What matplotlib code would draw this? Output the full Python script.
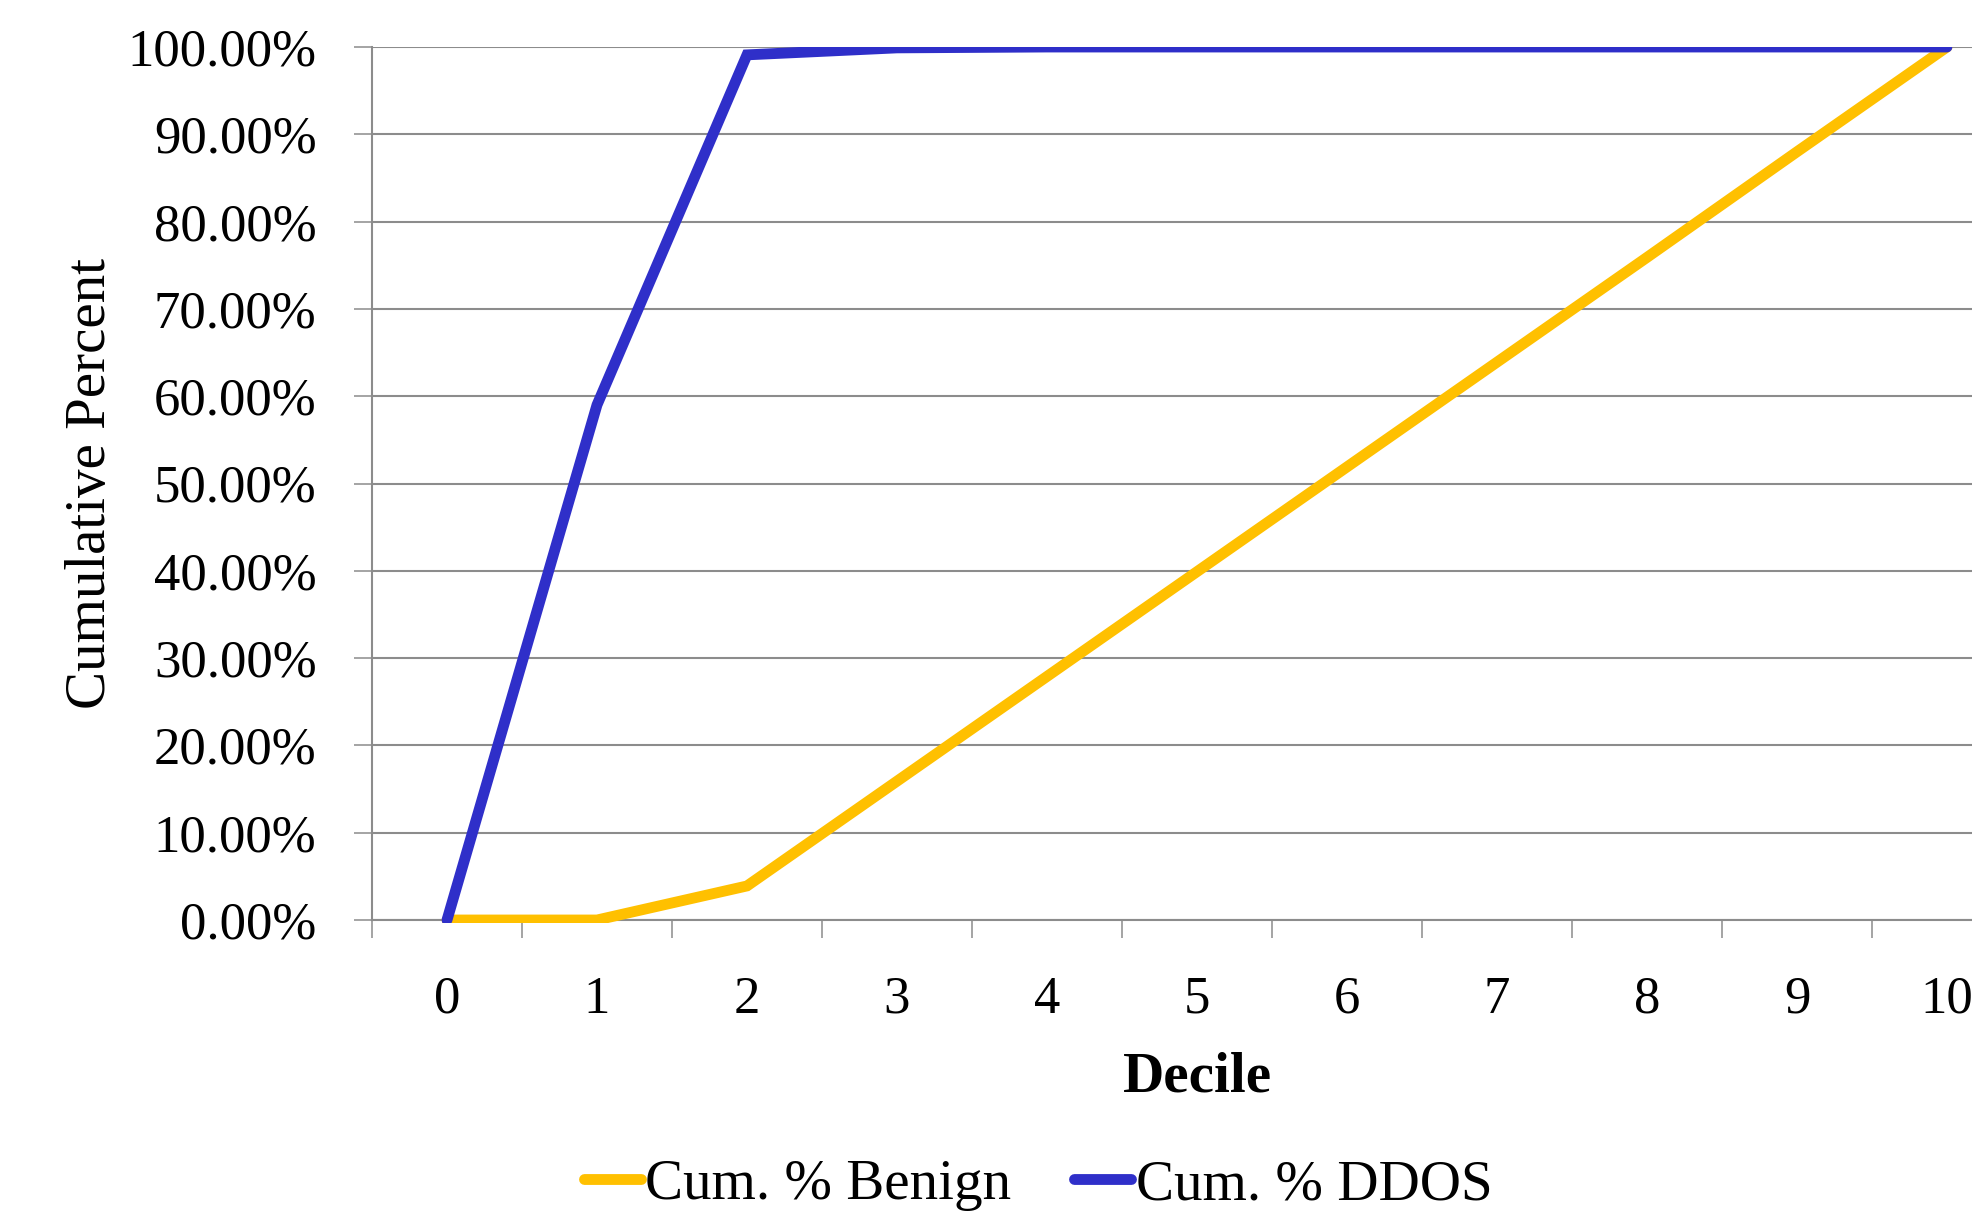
"""Cumulative percent of benign vs DDOS traffic by decile."""

import matplotlib.pyplot as plt
from matplotlib.ticker import FixedLocator, FuncFormatter
from matplotlib.transforms import Bbox, TransformedBbox

deciles = list(range(11))
decile_labels = [str(d) for d in deciles]
cum_benign = [0.0, 0.0, 3.9, 15.9, 27.9, 39.9, 51.9, 63.9, 75.9, 88.0, 100.0]
cum_ddos = [0.0, 59.0, 99.1, 99.9, 100.0, 100.0, 100.0, 100.0, 100.0, 100.0, 100.0]
y_ticks = [0, 10, 20, 30, 40, 50, 60, 70, 80, 90, 100]

BENIGN_COLOR = "#FFC000"
DDOS_COLOR = "#2F2FC9"
GRID_COLOR = "#8C8C8C"

plt.rcParams["font.family"] = ["Liberation Serif", "DejaVu Serif"]

W, H = 1972, 1226
fig = plt.figure(figsize=(W / 100, H / 100), dpi=100)

# plot area runs off the right edge, like the exported chart
left, right, top, bottom = 372, 2022, 47, 920
ax = fig.add_axes([left / W, 1 - bottom / H, (right - left) / W, (bottom - top) / H])

# series are clipped at the top of the plot area, with a little room below zero
clip = TransformedBbox(Bbox([[-0.5, -0.4], [10.5, 100.0]]), ax.transData)
for values, color, name, z in [(cum_benign, BENIGN_COLOR, "Cum. % Benign", 3),
                               (cum_ddos, DDOS_COLOR, "Cum. % DDOS", 4)]:
    line, = ax.plot(deciles, values, color=color, lw=7.8, solid_capstyle="round",
                    solid_joinstyle="miter", label=name, zorder=z)
    line.set_clip_box(clip)

ax.set_xlim(-0.5, 10.5)
ax.set_ylim(0, 100)

# y axis: percent gridlines
ax.set_yticks(y_ticks)
ax.yaxis.set_major_formatter(FuncFormatter(lambda v, _: f"{v:.2f}%"))
ax.grid(axis="y", color=GRID_COLOR, lw=1.5)
ax.set_axisbelow(True)

# x axis: tick marks between categories, labels on the categories
ax.xaxis.set_major_locator(FixedLocator([d - 0.5 for d in deciles] + [10.5]))
ax.xaxis.set_major_formatter(FuncFormatter(lambda v, _: ""))
ax.xaxis.set_minor_locator(FixedLocator(deciles))
ax.set_xticklabels(decile_labels, minor=True)

ax.tick_params(axis="both", which="major", direction="out", length=13,
               width=1.1, color=GRID_COLOR, labelsize=38)
ax.tick_params(axis="y", pad=27)
ax.tick_params(axis="x", which="minor", length=0, pad=40, labelsize=38)

for side in ("top", "right"):
    ax.spines[side].set_visible(False)
for side in ("left", "bottom"):
    ax.spines[side].set_color(GRID_COLOR)
    ax.spines[side].set_linewidth(1.5)

ax.set_xlabel("Decile", fontsize=41, fontweight="bold")
ax.xaxis.set_label_coords(0.5, -0.18)
ax.xaxis.label.set_va("center")
ax.set_ylabel("Cumulative Percent", fontsize=41)
ax.yaxis.set_label_coords(-0.170, 0.5)
ax.yaxis.label.set_va("center")

fig.legend(loc="center", bbox_to_anchor=(1038 / W, 1 - 1185 / H), ncol=2,
           frameon=False, fontsize=41, handlelength=1.0, handletextpad=0.08,
           columnspacing=1.1, borderpad=0)

fig.savefig("out.png", dpi=100)
